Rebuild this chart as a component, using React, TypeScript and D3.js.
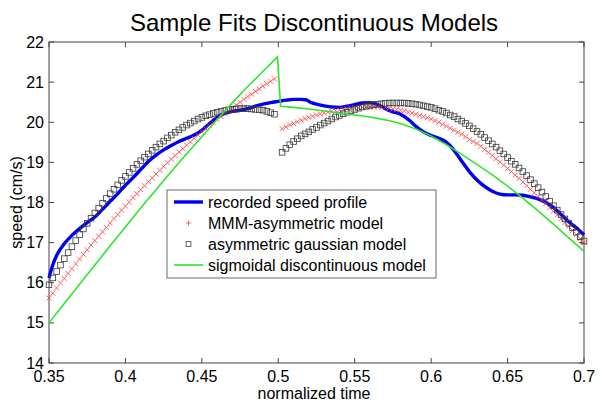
import React from 'react';
import * as d3 from 'd3';

const X_TICKS = [0.35, 0.4, 0.45, 0.5, 0.55, 0.6, 0.65, 0.7];
const X_TICK_LABELS = ['0.35', '0.4', '0.45', '0.5', '0.55', '0.6', '0.65', '0.7'];
const Y_TICKS = [14, 15, 16, 17, 18, 19, 20, 21, 22];

const TITLE = 'Sample Fits Discontinuous Models';
const X_LABEL = 'normalized time';
const Y_LABEL = 'speed (cm/s)';
const LEGEND_LABELS = [
  'recorded speed profile',
  'MMM-asymmetric model',
  'asymmetric gaussian model',
  'sigmoidal discontinuous model',
];

// recorded speed profile [t, v]
const RECORDED: [number, number][] = [
  [0.35, 16.12], [0.3525, 16.45], [0.355, 16.68], [0.36, 16.97], [0.365, 17.18], [0.37, 17.35],
  [0.375, 17.5], [0.38, 17.64], [0.385, 17.83], [0.39, 18.03], [0.395, 18.22], [0.4, 18.43],
  [0.405, 18.62], [0.41, 18.82], [0.415, 19.02], [0.42, 19.18], [0.425, 19.31], [0.43, 19.42],
  [0.435, 19.52], [0.44, 19.6], [0.445, 19.68], [0.45, 19.8], [0.455, 19.97], [0.46, 20.12],
  [0.465, 20.22], [0.47, 20.27], [0.475, 20.3], [0.48, 20.34], [0.485, 20.4], [0.49, 20.45],
  [0.495, 20.49], [0.5, 20.52], [0.505, 20.55], [0.51, 20.57], [0.515, 20.57], [0.518, 20.56],
  [0.521, 20.5], [0.525, 20.45], [0.53, 20.41], [0.535, 20.38], [0.54, 20.37], [0.545, 20.4],
  [0.55, 20.44], [0.555, 20.48], [0.56, 20.49], [0.565, 20.44], [0.57, 20.34], [0.575, 20.26],
  [0.58, 20.2], [0.585, 20.07], [0.59, 19.9], [0.595, 19.76], [0.6, 19.67], [0.605, 19.6],
  [0.61, 19.5], [0.615, 19.3], [0.62, 19.03], [0.625, 18.77], [0.63, 18.56], [0.635, 18.4],
  [0.64, 18.28], [0.645, 18.21], [0.65, 18.19], [0.655, 18.19], [0.66, 18.18], [0.665, 18.14],
  [0.67, 18.09], [0.675, 18.0], [0.68, 17.88], [0.685, 17.7], [0.69, 17.52], [0.695, 17.37],
  [0.7, 17.19],
];

// model samples: every 0.0025 in time
const SEG1_START = 0.35;
const SEG2_START = 0.5025;
const SAMPLE_STEP = 0.0025;

const MMM_SEG1 = [
  15.62, 15.74, 15.87, 15.99, 16.11, 16.23, 16.35, 16.47, 16.59, 16.71, 16.82, 16.94,
  17.05, 17.16, 17.27, 17.38, 17.49, 17.6, 17.7, 17.81, 17.91, 18.01, 18.12, 18.22,
  18.32, 18.42, 18.52, 18.61, 18.71, 18.8, 18.9, 18.99, 19.08, 19.17, 19.26, 19.34,
  19.43, 19.51, 19.6, 19.68, 19.76, 19.84, 19.92, 19.99, 20.07, 20.14, 20.22, 20.29,
  20.36, 20.43, 20.5, 20.57, 20.64, 20.7, 20.77, 20.83, 20.9, 20.96, 21.02, 21.08,
];
const MMM_SEG2 = [
  19.84, 19.88, 19.93,
  19.97, 20.01, 20.05, 20.09, 20.12, 20.15, 20.18, 20.21, 20.23, 20.25, 20.27, 20.29,
  20.31, 20.32, 20.34, 20.35, 20.36, 20.37, 20.37, 20.38, 20.38, 20.38, 20.38, 20.37,
  20.37, 20.35, 20.33, 20.32, 20.3, 20.28, 20.25, 20.23, 20.2, 20.17, 20.14, 20.11,
  20.08, 20.04, 20.0, 19.95, 19.9, 19.85, 19.8, 19.75, 19.7, 19.64, 19.57, 19.52,
  19.47, 19.4, 19.32, 19.25, 19.17, 19.09, 19.01, 18.93, 18.85, 18.77, 18.68, 18.6,
  18.51, 18.42, 18.33, 18.24, 18.15, 18.06, 17.97, 17.87, 17.78, 17.69, 17.59, 17.5,
  17.4, 17.3, 17.2, 17.1, 17.0,
];
const GAUSS_SEG1 = [
  15.95, 16.12, 16.28, 16.44, 16.6, 16.75, 16.9, 17.05, 17.2, 17.34, 17.48, 17.61,
  17.74, 17.86, 17.98, 18.1, 18.22, 18.33, 18.44, 18.55, 18.65, 18.75, 18.85, 18.95,
  19.04, 19.13, 19.21, 19.3, 19.38, 19.46, 19.53, 19.61, 19.68, 19.75, 19.81, 19.87,
  19.93, 19.98, 20.03, 20.08, 20.12, 20.16, 20.19, 20.22, 20.25, 20.27, 20.29, 20.31,
  20.32, 20.33, 20.34, 20.34, 20.34, 20.33, 20.32, 20.31, 20.3, 20.27, 20.24, 20.2,
];
const GAUSS_SEG2 = [
  19.25, 19.35, 19.44,
  19.52, 19.59, 19.66, 19.71, 19.76, 19.82, 19.87, 19.93, 19.98, 20.03, 20.08, 20.13,
  20.17, 20.21, 20.25, 20.29, 20.32, 20.35, 20.38, 20.4, 20.42, 20.44, 20.45, 20.46,
  20.47, 20.48, 20.48, 20.48, 20.48, 20.48, 20.47, 20.46, 20.45, 20.43, 20.41, 20.39,
  20.37, 20.34, 20.3, 20.27, 20.23, 20.18, 20.14, 20.08, 20.03, 19.97, 19.91, 19.84,
  19.77, 19.7, 19.62, 19.54, 19.46, 19.38, 19.29, 19.21, 19.12, 19.03, 18.95, 18.86,
  18.77, 18.67, 18.57, 18.47, 18.37, 18.26, 18.15, 18.03, 17.92, 17.81, 17.7, 17.59,
  17.48, 17.37, 17.26, 17.15, 17.04,
];

// sigmoidal discontinuous model [t, v]
const SIGMOID_SEG1: [number, number][] = [
  [0.35, 15.0], [0.36, 15.48], [0.37, 15.96], [0.38, 16.44], [0.39, 16.92], [0.4, 17.39],
  [0.41, 17.86], [0.42, 18.32], [0.43, 18.77], [0.44, 19.21], [0.45, 19.64], [0.46, 20.07],
  [0.47, 20.49], [0.48, 20.89], [0.49, 21.27], [0.4995, 21.63],
];
const SIGMOID_SEG2: [number, number][] = [
  [0.5015, 20.4], [0.51, 20.37], [0.52, 20.33], [0.53, 20.28], [0.54, 20.23], [0.55, 20.18],
  [0.56, 20.13], [0.57, 20.06], [0.58, 19.97], [0.59, 19.83], [0.6, 19.66], [0.61, 19.44],
  [0.62, 19.2], [0.63, 18.95], [0.64, 18.69], [0.65, 18.41], [0.66, 18.11], [0.67, 17.79],
  [0.68, 17.46], [0.69, 17.12], [0.7, 16.78],
];

const W = 602;
const H = 407;
const M = { left: 49, right: 584, top: 42, bottom: 363 };
const FONT = '"Liberation Sans", Arial, Helvetica, sans-serif';
const AXIS = '#444444';
const BLUE = '#0000f0';
const RED = '#ff3c3c';
const BLACK = '#3a3a3a';
const GREEN = '#2ee62e';

function toPoints(start: number, vals: number[]): [number, number][] {
  return vals.map((v, i) => [start + i * SAMPLE_STEP, v]);
}

export default function App() {
  const x = d3.scaleLinear().domain([0.35, 0.7]).range([M.left, M.right]);
  const y = d3.scaleLinear().domain([14, 22]).range([M.bottom, M.top]);
  const line = d3
    .line<[number, number]>()
    .x((d) => x(d[0]))
    .y((d) => y(d[1]))
    .curve(d3.curveMonotoneX);
  const straight = d3
    .line<[number, number]>()
    .x((d) => x(d[0]))
    .y((d) => y(d[1]));

  const mmm = [...toPoints(SEG1_START, MMM_SEG1), ...toPoints(SEG2_START, MMM_SEG2)];
  const gauss = [...toPoints(SEG1_START, GAUSS_SEG1), ...toPoints(SEG2_START, GAUSS_SEG2)];
  const sigmoid = [...SIGMOID_SEG1, ...SIGMOID_SEG2];

  const tickLen = 5;
  const cross = (cx: number, cy: number, r: number, key: string | number, color: string) => (
    <path
      key={key}
      d={`M${cx - r},${cy - r}L${cx + r},${cy + r}M${cx - r},${cy + r}L${cx + r},${cy - r}`}
      stroke={color}
      strokeWidth={0.8}
      fill="none"
    />
  );
  const plus = (cx: number, cy: number, r: number, color: string) => (
    <path
      d={`M${cx - r},${cy}L${cx + r},${cy}M${cx},${cy - r}L${cx},${cy + r}`}
      stroke={color}
      strokeWidth={0.8}
      fill="none"
    />
  );

  const lg = { x0: 167, y0: 190, x1: 436, y1: 278 };
  const rowY = [202, 223, 244, 265];
  const sx0 = 174;
  const sx1 = 203;
  const smid = (sx0 + sx1) / 2;
  const FS = 16;

  return (
    <svg
      width={W}
      height={H}
      style={{ position: 'absolute', left: 0, top: 0, background: '#fff' }}
      fontFamily={FONT}
    >
      <rect x={0} y={0} width={W} height={H} fill="#fff" />
      <text x={314} y={31} textAnchor="middle" fontSize={24} fill="#000">
        {TITLE}
      </text>

      {/* axes box */}
      <rect
        x={M.left}
        y={M.top}
        width={M.right - M.left}
        height={M.bottom - M.top}
        fill="#fff"
        stroke={AXIS}
        strokeWidth={1}
      />
      {X_TICKS.map((t, i) => (
        <g key={'xt' + i}>
          <line x1={x(t)} x2={x(t)} y1={M.bottom} y2={M.bottom - tickLen} stroke={AXIS} />
          <line x1={x(t)} x2={x(t)} y1={M.top} y2={M.top + tickLen} stroke={AXIS} />
          <text x={x(t)} y={382} textAnchor="middle" fontSize={FS} fill="#000">
            {X_TICK_LABELS[i]}
          </text>
        </g>
      ))}
      {Y_TICKS.map((v, i) => (
        <g key={'yt' + i}>
          <line x1={M.left} x2={M.left + tickLen} y1={y(v)} y2={y(v)} stroke={AXIS} />
          <line x1={M.right} x2={M.right - tickLen} y1={y(v)} y2={y(v)} stroke={AXIS} />
          <text x={44} y={y(v) + 5.5} textAnchor="end" fontSize={FS} fill="#000">
            {String(v)}
          </text>
        </g>
      ))}
      <text x={314} y={399} textAnchor="middle" fontSize={FS} fill="#000">
        {X_LABEL}
      </text>
      <text
        transform={`translate(22,${(M.top + M.bottom) / 2}) rotate(-90)`}
        textAnchor="middle"
        fontSize={FS}
        fill="#000"
      >
        {Y_LABEL}
      </text>

      {/* series */}
      <path d={line(RECORDED) || ''} fill="none" stroke={BLUE} strokeWidth={3.4} strokeLinejoin="round" />
      {mmm.map((d, i) => cross(x(d[0]), y(d[1]), 2.5, 'm' + i, RED))}
      {gauss.map((d, i) => (
        <rect
          key={'g' + i}
          x={x(d[0]) - 2.8}
          y={y(d[1]) - 2.8}
          width={5.6}
          height={5.6}
          fill="none"
          stroke={BLACK}
          strokeWidth={0.8}
        />
      ))}
      <path d={straight(sigmoid) || ''} fill="none" stroke={GREEN} strokeWidth={1.6} />

      {/* legend */}
      <rect x={lg.x0} y={lg.y0} width={lg.x1 - lg.x0} height={lg.y1 - lg.y0} fill="#fff" stroke={AXIS} strokeWidth={0.8} />
      <line x1={sx0} x2={sx1} y1={rowY[0]} y2={rowY[0]} stroke={BLUE} strokeWidth={3.4} />
      {plus(smid, rowY[1], 2.6, RED)}
      <rect x={smid - 2.4} y={rowY[2] - 2.4} width={4.8} height={4.8} fill="none" stroke={BLACK} strokeWidth={0.8} />
      <line x1={sx0} x2={sx1} y1={rowY[3]} y2={rowY[3]} stroke={GREEN} strokeWidth={1.6} />
      {LEGEND_LABELS.map((s, i) => (
        <text key={'lt' + i} x={208} y={rowY[i] + 5.5} fontSize={FS} fill="#000">
          {s}
        </text>
      ))}
    </svg>
  );
}
